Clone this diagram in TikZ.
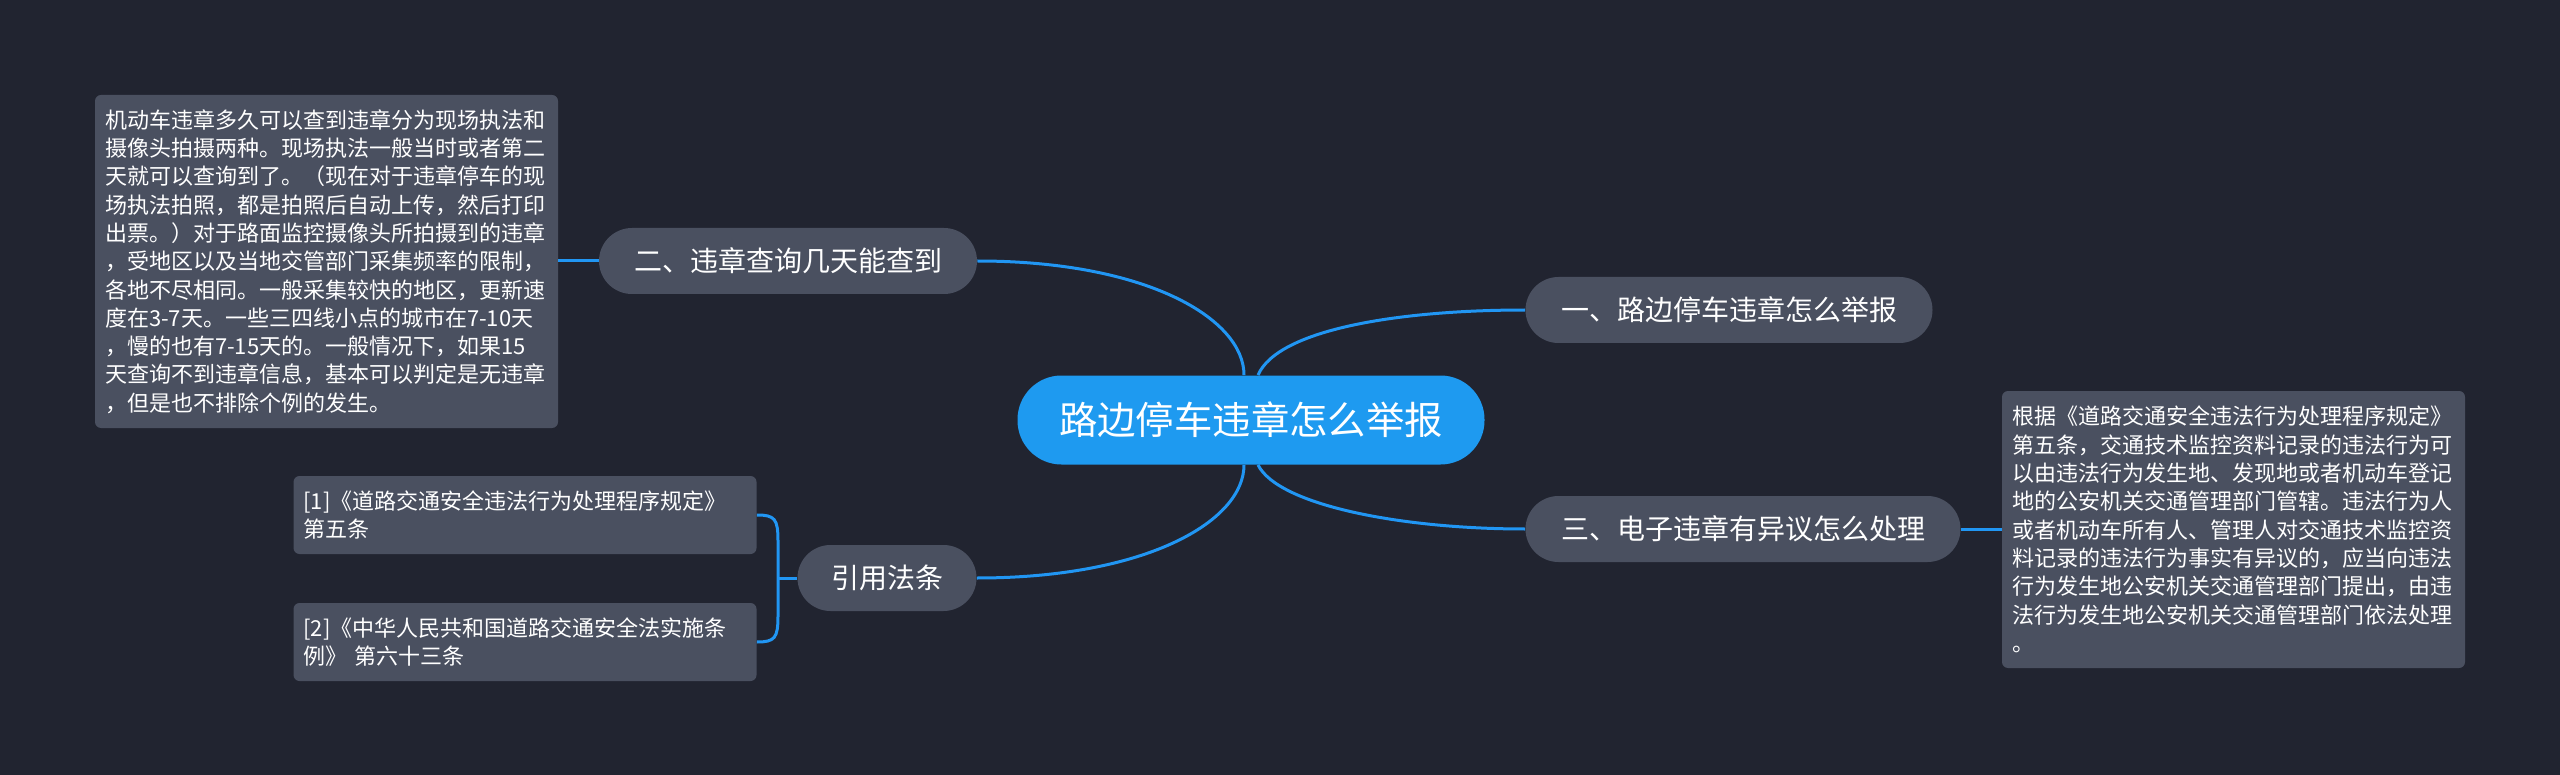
\documentclass[tikz,border=0pt]{standalone}
\usepackage{fontspec}
\newfontfamily\cjk{Noto Sans CJK SC}
\usepackage{xcolor}
\usetikzlibrary{positioning}

\definecolor{bgdark}{RGB}{33,36,48}
\definecolor{boxgray}{RGB}{74,80,96}
\definecolor{rootblue}{RGB}{30,154,240}
\definecolor{linkblue}{RGB}{33,150,243}

\tikzset{
  root/.style={fill=rootblue, text=white, rounded corners=22pt, minimum width=233.5pt,
    minimum height=44.5pt, inner sep=0pt, font=\cjk\fontsize{19.2}{23}\selectfont},
  topic/.style={fill=boxgray, text=white, rounded corners=16.5pt, minimum height=33pt,
    inner sep=0pt, font=\cjk\fontsize{14}{17}\selectfont},
  note/.style={fill=boxgray, text=white, rounded corners=3pt, text width=221.5pt,
    inner xsep=5pt, align=left, font=\cjk\fontsize{11}{14.15}\selectfont},
  link/.style={draw=linkblue, line width=1.5pt},
}

\begin{document}
\begin{tikzpicture}[x=0.5pt, y=-0.5pt]
    % Background
    \useasboundingbox (0,0) rectangle (2560,775);
    \fill[bgdark] (0,0) rectangle (2560,775);

    % Nodes
    \node[root] (c) at (1251,420) {路边停车违章怎么举报};
    \node[topic, minimum width=203.5pt] (b1) at (1729,310) {一、路边停车违章怎么举报};
    \node[topic, minimum width=189pt] (b2) at (788,261) {二、违章查询几天能查到};
    \node[topic, minimum width=217.5pt] (b3) at (1743,529) {三、电子违章有异议怎么处理};
    \node[topic, minimum width=89.5pt] (b4) at (887,578) {引用法条};

    \node[note, minimum height=166.5pt] (t2) at (326.5,261.5) {%
      机动车违章多久可以查到违章分为现场执法和\\
      摄像头拍摄两种。现场执法一般当时或者第二\\
      天就可以查询到了。（现在对于违章停车的现\\
      场执法拍照，都是拍照后自动上传，然后打印\\
      出票。）对于路面监控摄像头所拍摄到的违章\\
      ，受地区以及当地交管部门采集频率的限制，\\
      各地不尽相同。一般采集较快的地区，更新速\\
      度在3-7天。一些三四线小点的城市在7-10天\\
      ，慢的也有7-15天的。一般情况下，如果15\\
      天查询不到违章信息，基本可以判定是无违章\\
      ，但是也不排除个例的发生。};

    \node[note, minimum height=138.5pt] (t3) at (2233.5,529.5) {%
      根据《道路交通安全违法行为处理程序规定》\\
      第五条，交通技术监控资料记录的违法行为可\\
      以由违法行为发生地、发现地或者机动车登记\\
      地的公安机关交通管理部门管辖。违法行为人\\
      或者机动车所有人、管理人对交通技术监控资\\
      料记录的违法行为事实有异议的，应当向违法\\
      行为发生地公安机关交通管理部门提出，由违\\
      法行为发生地公安机关交通管理部门依法处理\\
      。};

    \node[note, minimum height=39pt] (r1) at (525,515) {%
      [1]《道路交通安全违法行为处理程序规定》\\第五条};
    \node[note, minimum height=39pt] (r2) at (525,642) {%
      [2]《中华人民共和国道路交通安全法实施条\\例》 第六十三条};

    % Connectors
    \draw[link] ([xshift=-3.5pt]c.north) .. controls +(0,-56) and +(170,0) .. (b2.east);
    \draw[link] ([xshift=3.5pt]c.north) .. controls +(20,-46) and +(-125,0) .. (b1.west);
    \draw[link] ([xshift=-3.5pt]c.south) .. controls +(0,56) and +(170,0) .. (b4.east);
    \draw[link] ([xshift=3.5pt]c.south) .. controls +(20,40) and +(-125,0) .. (b3.west);
    \draw[link] (b2.west) -- (t2.east |- b2.west);
    \draw[link] (b3.east) -- (t3.west |- b3.east);

    % Bracket for the references
    \coordinate (brk) at (778,578);
    \coordinate (brktop) at (778,541);
    \coordinate (brkbot) at (778,616);
    \draw[link] (b4.west) -- (brk);
    \draw[link] (r1.east) .. controls +(18,0) and +(0,-22) .. (brktop) -- (brkbot)
      .. controls +(0,22) and +(18,0) .. (r2.east);
\end{tikzpicture}
\end{document}
